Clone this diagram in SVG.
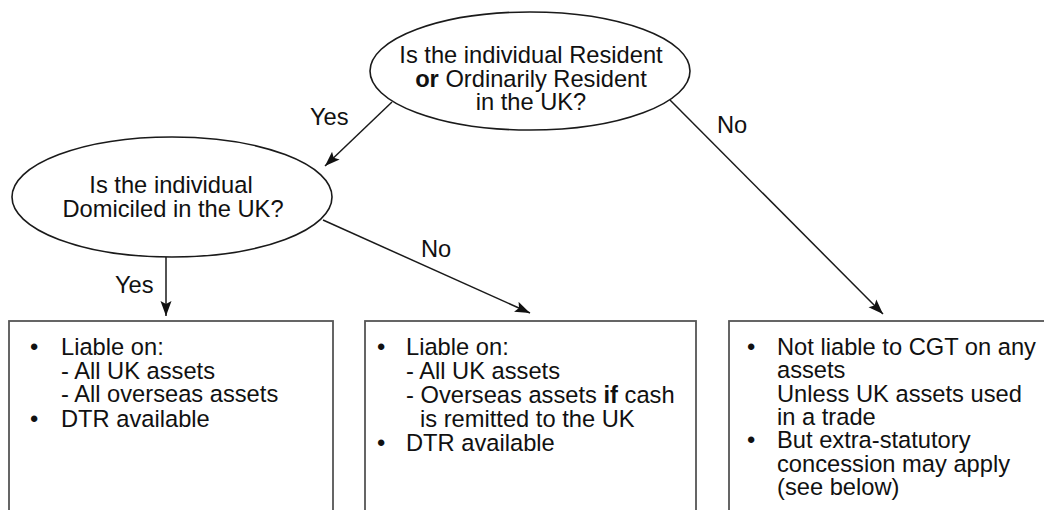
<svg xmlns="http://www.w3.org/2000/svg" width="1044" height="510" viewBox="0 0 1044 510">
  <style>
    text { font-family: "Liberation Sans", Arial, Helvetica, sans-serif; font-size: 23.7px; fill: #111; }
    .mid { text-anchor: middle; }
    .b { font-weight: bold; }
    .decision { fill: #fff; stroke: #1a1a1a; stroke-width: 1.6; }
    .outcome { fill: #fff; stroke: #555; stroke-width: 1.8; }
    .conn { stroke: #1a1a1a; stroke-width: 1.5; fill: none; marker-end: url(#arrow); }
  </style>
  <defs>
    <marker id="arrow" markerUnits="userSpaceOnUse" markerWidth="16" markerHeight="12" refX="15" refY="6" orient="auto">
      <path d="M0,0.5 L15,6 L0,11.5 L3,6 z" fill="#111"/>
    </marker>
  </defs>
  <rect width="1044" height="510" fill="#fff"/>

  <!-- connectors -->
  <g id="connectors">
    <line class="conn" x1="392" y1="102" x2="325" y2="166"/>
    <text x="310" y="125">Yes</text>
    <line class="conn" x1="670" y1="100" x2="883" y2="314"/>
    <text x="717" y="133">No</text>
    <line class="conn" x1="166" y1="257" x2="166" y2="316"/>
    <text x="115" y="293">Yes</text>
    <line class="conn" x1="323" y1="220" x2="530" y2="313"/>
    <text x="421" y="257">No</text>
  </g>

  <!-- question: residence -->
  <g id="q-resident">
    <ellipse class="decision" cx="530" cy="71" rx="160" ry="59"/>
    <text class="mid" x="531" y="63">Is the individual Resident</text>
    <text class="mid" x="531" y="87"><tspan class="b">or</tspan> Ordinarily Resident</text>
    <text class="mid" x="531" y="110">in the UK?</text>
  </g>

  <!-- question: domicile -->
  <g id="q-domicile">
    <ellipse class="decision" cx="172" cy="197" rx="160" ry="60"/>
    <text class="mid" x="171" y="193">Is the individual</text>
    <text class="mid" x="173" y="217">Domiciled in the UK?</text>
  </g>

  <!-- outcome: resident and domiciled -->
  <g id="out-domiciled">
    <rect class="outcome" x="9" y="321" width="324" height="200"/>
    <text x="30" y="355">•</text>
    <text x="61" y="355">Liable on:</text>
    <text x="61" y="379">- All UK assets</text>
    <text x="61" y="402">- All overseas assets</text>
    <text x="30" y="427">•</text>
    <text x="61" y="427">DTR available</text>
  </g>

  <!-- outcome: resident, not domiciled -->
  <g id="out-non-domiciled">
    <rect class="outcome" x="365" y="321" width="331" height="200"/>
    <text x="377" y="355">•</text>
    <text x="406" y="355">Liable on:</text>
    <text x="406" y="379">- All UK assets</text>
    <text x="406" y="403">- Overseas assets <tspan class="b">if</tspan> cash</text>
    <text x="420" y="427">is remitted to the UK</text>
    <text x="377" y="451">•</text>
    <text x="406" y="451">DTR available</text>
  </g>

  <!-- outcome: not resident -->
  <g id="out-non-resident">
    <rect class="outcome" x="729" y="321" width="340" height="200"/>
    <text x="747" y="355">•</text>
    <text x="777" y="355">Not liable to CGT on any</text>
    <text x="777" y="378">assets</text>
    <text x="777" y="402">Unless UK assets used</text>
    <text x="777" y="425">in a trade</text>
    <text x="747" y="448">•</text>
    <text x="777" y="448">But extra-statutory</text>
    <text x="777" y="472">concession may apply</text>
    <text x="777" y="495">(see below)</text>
  </g>
</svg>
